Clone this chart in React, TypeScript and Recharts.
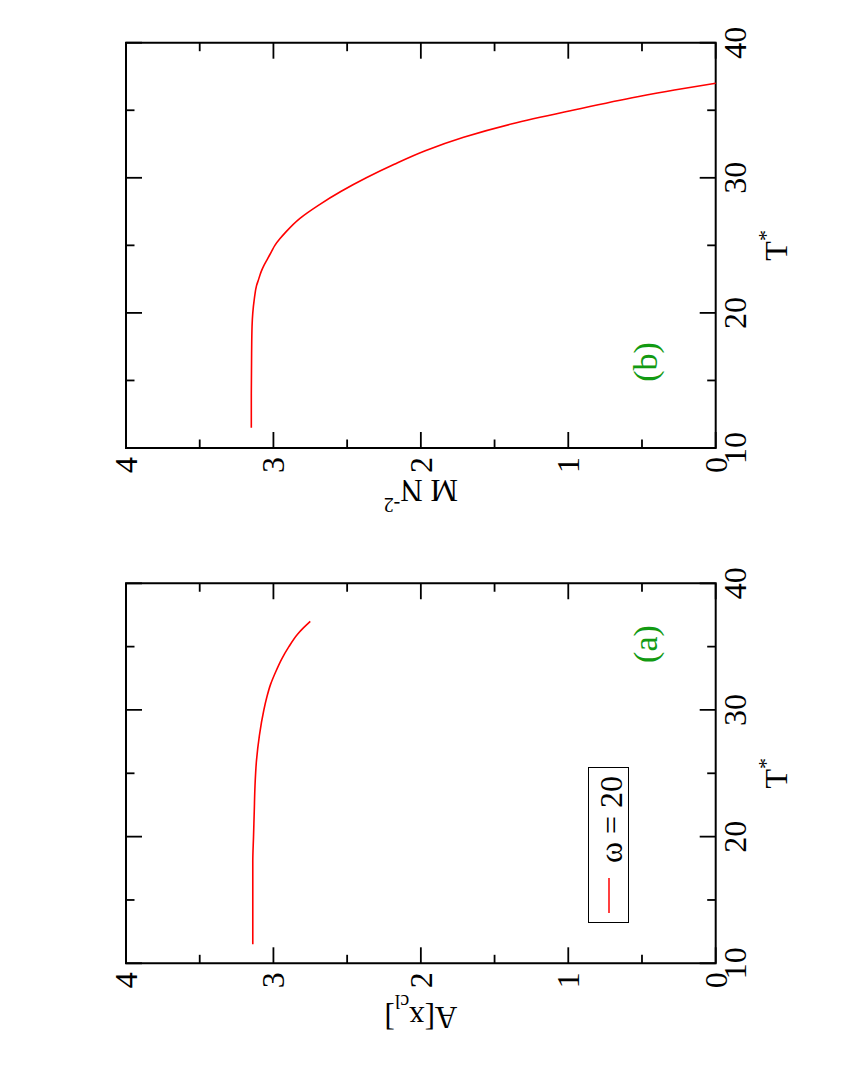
import React from 'react';
import { LineChart, Line, XAxis, YAxis, ReferenceArea, Legend } from 'recharts';

// axis ticks
const tTicks = [10, 15, 20, 25, 30, 35, 40];
const tLabels = [10, 20, 30, 40];
const yTicks = [0, 0.5, 1, 1.5, 2, 2.5, 3, 3.5, 4];
const yLabels = [0, 1, 2, 3, 4];

// panel (a): A[x_cl] vs T*
const tA = [11.5, 12, 14, 16, 18, 20, 22, 24, 26, 28, 30, 31, 32, 33, 34, 35, 36, 36.5, 37];
const aVals = [3.14, 3.14, 3.14, 3.14, 3.14, 3.135, 3.13, 3.125, 3.115, 3.095, 3.065, 3.045, 3.02, 2.985, 2.945, 2.895, 2.835, 2.795, 2.75];

// panel (b): M N^-2 vs T*
const tB = [11.5, 14, 17, 19, 20, 21, 22, 22.5, 23, 23.5, 24, 24.5, 25, 25.5, 26, 27, 28, 29, 30, 31, 32, 33, 34, 35, 36, 36.5, 37];
const mB = [3.15, 3.15, 3.148, 3.145, 3.14, 3.13, 3.115, 3.1, 3.085, 3.065, 3.04, 3.015, 2.99, 2.955, 2.915, 2.82, 2.69, 2.54, 2.37, 2.18, 1.97, 1.71, 1.38, 0.97, 0.53, 0.28, 0.0];

const legendLabel = 'ω = 20';

const dataA = tA.map((t, i) => ({ t, v: aVals[i] }));
const dataB = tB.map((t, i) => ({ t, v: mB[i] }));

const FONT = '"Liberation Serif", "Times New Roman", serif';
const GREEN = '#129a12';

const PANEL_W = 545;
const PANEL_H = 842;

type Frame = { left: number; right: number; top: number; bottom: number };

const frameA: Frame = { left: 126.7, right: 506.7, top: 126, bottom: 715.7 };
const frameB: Frame = { left: 97, right: 502.3, top: 126, bottom: 715.7 };

const XTick = (props: any) => {
  const { x, payload, frame } = props;
  const v = payload.value;
  const major = tLabels.includes(v);
  const len = major ? 16 : 8.5;
  return (
    <g>
      <line x1={x} x2={x} y1={frame.bottom} y2={frame.bottom - len} stroke="#000" strokeWidth={1.8} />
      <line x1={x} x2={x} y1={frame.top} y2={frame.top + len} stroke="#000" strokeWidth={1.8} />
      {major && (
        <text x={x} y={frame.bottom + 30} textAnchor="middle" fontSize={32} fontFamily={FONT} fill="#000">
          {v}
        </text>
      )}
    </g>
  );
};

const YTick = (props: any) => {
  const { y, payload, frame } = props;
  const v = payload.value;
  const major = yLabels.includes(v);
  const len = major ? 16 : 8.5;
  return (
    <g>
      <line x1={frame.left} x2={frame.left + len} y1={y} y2={y} stroke="#000" strokeWidth={1.8} />
      <line x1={frame.right} x2={frame.right - len} y1={y} y2={y} stroke="#000" strokeWidth={1.8} />
      {major && (
        <text x={frame.left - 9} y={y + 11} textAnchor="end" fontSize={32} fontFamily={FONT} fill="#000">
          {v}
        </text>
      )}
    </g>
  );
};

const LegendBox = () => (
  <svg width={156} height={41} style={{ display: 'block' }}>
    <rect x={0.5} y={0.5} width={155} height={40} fill="#fff" stroke="#000" strokeWidth={1} />
    <line x1={10} x2={45} y1={21} y2={21} stroke="#ff0000" strokeWidth={1.5} />
    <text x={60} y={34} fontSize={32} fontFamily={FONT} fill="#000">
      {legendLabel}
    </text>
  </svg>
);

interface PanelProps {
  data: { t: number; v: number }[];
  frame: Frame;
  left: number;
  yTitle: React.ReactNode;
  yTitleBase: number;
  tag: string;
  tagX: number;
  legend?: boolean;
}

const Panel: React.FC<PanelProps> = ({ data, frame, left, yTitle, yTitleBase, tag, tagX, legend }) => {
  const cx = (frame.left + frame.right) / 2;
  const cy = (frame.top + frame.bottom) / 2;
  const titles = () => (
    <g fontFamily={FONT}>
      <text x={cx} y={787} textAnchor="middle" fontSize={32} fill="#000">
        T<tspan fontSize={22} dy={-14}>*</tspan>
      </text>
      <text
        transform={`translate(${yTitleBase},${cy}) rotate(-90)`}
        textAnchor="middle"
        fontSize={31}
        fill="#000"
      >
        {yTitle}
      </text>
      <text x={tagX} y={657} textAnchor="middle" fontSize={34} fill={GREEN}>
        {tag}
      </text>
    </g>
  );
  return (
    <div style={{ position: 'absolute', left, top: 0 }}>
      <LineChart
        width={PANEL_W}
        height={PANEL_H}
        data={data}
        margin={{ top: frame.top, bottom: PANEL_H - frame.bottom - 1, left: frame.left - 1, right: PANEL_W - frame.right }}
      >
        <XAxis
          dataKey="t"
          type="number"
          domain={[10, 40]}
          ticks={tTicks}
          interval={0}
          height={1}
          axisLine={false}
          tickLine={false}
          tick={(p: any) => <XTick {...p} frame={frame} />}
        />
        <YAxis
          type="number"
          domain={[0, 4]}
          ticks={yTicks}
          interval={0}
          width={1}
          axisLine={false}
          tickLine={false}
          tick={(p: any) => <YTick {...p} frame={frame} />}
        />
        <ReferenceArea
          x1={10}
          x2={40}
          y1={0}
          y2={4}
          fill="none"
          fillOpacity={0}
          stroke="#000"
          strokeWidth={2}
          label={titles}
        />
        <Line
          type="monotone"
          dataKey="v"
          stroke="#ff0000"
          strokeWidth={1.6}
          dot={false}
          activeDot={false}
          isAnimationActive={false}
        />
        {legend && (
          <Legend
            layout="horizontal"
            verticalAlign="middle"
            align="center"
            wrapperStyle={{ left: 167, top: 588, width: 156, height: 41 }}
            content={() => <LegendBox />}
          />
        )}
      </LineChart>
    </div>
  );
};

export default function App() {
  return (
    <div style={{ position: 'absolute', left: 0, top: 0, width: 842, height: 1090, overflow: 'hidden', background: '#fff' }}>
      <div
        style={{
          position: 'absolute',
          left: 0,
          top: 0,
          width: 1090,
          height: 842,
          transformOrigin: '0 0',
          transform: 'translate(0px, 1090px) rotate(-90deg)',
        }}
      >
        <Panel
          data={dataA}
          frame={frameA}
          left={0}
          yTitle={
            <>
              A[x<tspan fontSize={20} dy={12}>cl</tspan>
              <tspan fontSize={31} dy={-12}>]</tspan>
            </>
          }
          yTitleBase={83}
          tag="(a)"
          tagX={446}
          legend
        />
        <Panel
          data={dataB}
          frame={frameB}
          left={PANEL_W}
          yTitle={
            <>
              M N<tspan fontSize={20} dy={-18}>-2</tspan>
            </>
          }
          yTitleBase={65}
          tag="(b)"
          tagX={183}
        />
      </div>
    </div>
  );
}
